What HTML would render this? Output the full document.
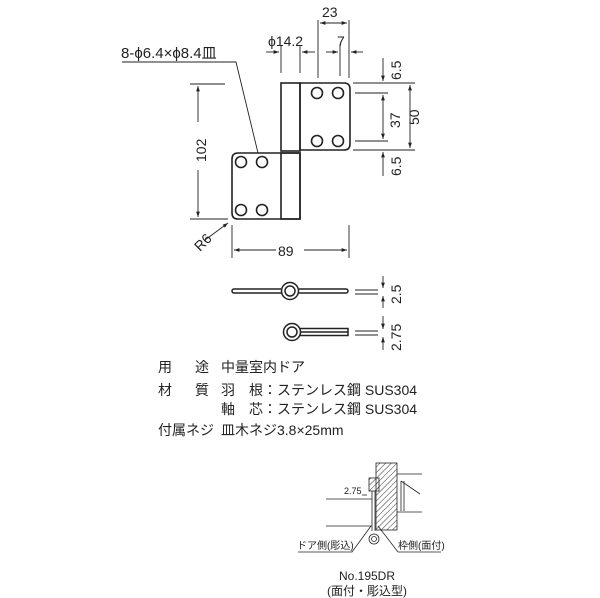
<!DOCTYPE html>
<html><head><meta charset="utf-8"><style>
html,body{margin:0;padding:0;background:#fff;}
svg{display:block;}
text{font-family:"Liberation Sans","Noto Sans CJK JP",sans-serif;fill:#222;}
</style></head><body>
<svg width="600" height="598" viewBox="0 0 600 598" xmlns="http://www.w3.org/2000/svg">
<defs>
<marker id="a" viewBox="0 0 10 10" refX="10" refY="5" markerWidth="6" markerHeight="6" orient="auto-start-reverse"><path d="M0,1.5L10,5L0,8.5z" fill="#222"/></marker>
<pattern id="h" width="4" height="4" patternUnits="userSpaceOnUse" patternTransform="rotate(45)"><line x1="0" y1="0" x2="0" y2="4" stroke="#333" stroke-width="1"/></pattern>
</defs>
<g stroke="#222" fill="none" stroke-width="1.6">
<path d="M300,83 H344 Q350,83 350,89 V144 Q350,150 344,150 H300 Z"/>
<rect x="281" y="83" width="19" height="68"/>
<path d="M300,153 H238 Q232,153 232,159 V213 Q232,219 238,219 H300 Z"/>
<rect x="281" y="153" width="19" height="66"/>
<circle cx="317" cy="93" r="5.5"/><circle cx="338" cy="93" r="5.5"/>
<circle cx="317" cy="141" r="5.5"/><circle cx="338" cy="141" r="5.5"/>
<circle cx="241" cy="162" r="5.5"/><circle cx="262" cy="162" r="5.5"/>
<circle cx="241" cy="210" r="5.5"/><circle cx="262" cy="210" r="5.5"/>
</g>
<g stroke="#222" fill="none" stroke-width="0.9">
<line x1="190" y1="84" x2="225" y2="84"/><line x1="190" y1="219" x2="228" y2="219"/>
<line x1="198" y1="122" x2="198" y2="86" marker-end="url(#a)"/>
<line x1="198" y1="170" x2="198" y2="217" marker-end="url(#a)"/>
<line x1="232" y1="225" x2="232" y2="258"/><line x1="349" y1="225" x2="349" y2="258"/>
<line x1="276" y1="250" x2="234" y2="250" marker-end="url(#a)"/>
<line x1="304" y1="250" x2="347" y2="250" marker-end="url(#a)"/>
<line x1="205" y1="240" x2="228" y2="223" marker-end="url(#a)"/>
<line x1="318" y1="20" x2="318" y2="78"/><line x1="349" y1="20" x2="349" y2="78"/>
<line x1="320" y1="23" x2="347" y2="23" marker-start="url(#a)" marker-end="url(#a)"/>
<line x1="281" y1="45" x2="281" y2="73"/><line x1="300" y1="45" x2="300" y2="73"/>
<line x1="266" y1="52" x2="279" y2="52" marker-end="url(#a)"/>
<line x1="315" y1="52" x2="302" y2="52" marker-end="url(#a)"/>
<line x1="340" y1="45" x2="340" y2="76"/>
<line x1="326" y1="52" x2="338" y2="52" marker-end="url(#a)"/>
<line x1="363" y1="52" x2="351" y2="52" marker-end="url(#a)"/>
<line x1="353" y1="83" x2="415" y2="83"/><line x1="355" y1="93" x2="388" y2="93"/>
<line x1="355" y1="141" x2="388" y2="141"/><line x1="353" y1="150" x2="415" y2="150"/>
<line x1="383" y1="58" x2="383" y2="81" marker-end="url(#a)"/>
<line x1="383" y1="95" x2="383" y2="139" marker-start="url(#a)" marker-end="url(#a)"/>
<line x1="383" y1="176" x2="383" y2="152" marker-end="url(#a)"/>
<line x1="410" y1="85" x2="410" y2="148" marker-start="url(#a)" marker-end="url(#a)"/>
<polyline points="122,62 236,62 258,153"/>
<line x1="355" y1="290" x2="378" y2="290"/><line x1="355" y1="294" x2="378" y2="294"/>
<line x1="383" y1="276" x2="383" y2="288" marker-end="url(#a)"/>
<line x1="383" y1="308" x2="383" y2="296" marker-end="url(#a)"/>
<line x1="355" y1="331" x2="378" y2="331"/><line x1="355" y1="335" x2="378" y2="335"/>
<line x1="383" y1="316" x2="383" y2="329" marker-end="url(#a)"/>
<line x1="383" y1="350" x2="383" y2="337" marker-end="url(#a)"/>
</g>
<g stroke="#222" fill="none" stroke-width="1.5">
<path d="M281,289 H234 a2,2 0 0 0 0,4 H281"/>
<circle cx="290" cy="291" r="8.5"/><circle cx="290" cy="291" r="5"/>
<path d="M299,289 H346 a2,2 0 0 1 0,4 H299"/>
<circle cx="292" cy="332" r="8.5"/><circle cx="292" cy="332" r="5"/>
<path d="M299,328.5 H348 V335.5 H299 M301,332 H348"/>
</g>
<text x="121" y="58" font-size="15">8-ϕ6.4×ϕ8.4皿</text>
<text x="268" y="46" font-size="14">ϕ14.2</text>
<text x="322" y="17" font-size="14">23</text>
<text x="337" y="46" font-size="14">7</text>
<text x="278" y="256" font-size="14">89</text>
<text transform="translate(206,162) rotate(-90)" font-size="14">102</text>
<text transform="translate(200,252) rotate(-45)" font-size="14">R6</text>
<text transform="translate(401,80) rotate(-90)" font-size="14">6.5</text>
<text transform="translate(400,128) rotate(-90)" font-size="14">37</text>
<text transform="translate(419,125) rotate(-90)" font-size="14">50</text>
<text transform="translate(401,176) rotate(-90)" font-size="14">6.5</text>
<text transform="translate(401,304) rotate(-90)" font-size="14">2.5</text>
<text transform="translate(401,351) rotate(-90)" font-size="14">2.75</text>
<g font-size="14">
<text x="158" y="372">用</text><text x="195" y="372">途</text><text x="221" y="372">中量室内ドア</text>
<text x="158" y="395">材</text><text x="195" y="395">質</text><text x="221" y="395">羽　根：ステンレス鋼 SUS304</text>
<text x="221" y="414">軸　芯：ステンレス鋼 SUS304</text>
<text x="158" y="435">付属ネジ</text><text x="221" y="435">皿木ネジ3.8×25mm</text>
</g>
<g stroke="#222" stroke-width="0.8" fill="none">
<rect x="376" y="463" width="21" height="67" fill="url(#h)"/>
<rect x="369" y="478" width="10" height="13" fill="url(#h)"/>
<line x1="397" y1="474" x2="422" y2="474"/><line x1="397" y1="512" x2="422" y2="512"/>
<line x1="401" y1="481" x2="401" y2="511"/>
<line x1="401" y1="481" x2="420" y2="494"/><line x1="404" y1="481" x2="404" y2="511"/>
<line x1="326" y1="499" x2="372" y2="499"/><line x1="326" y1="526" x2="372" y2="526"/>
<line x1="372" y1="491" x2="372" y2="531"/><line x1="375" y1="491" x2="375" y2="531"/>
<circle cx="374" cy="539" r="5"/><circle cx="374" cy="539" r="2.5"/>
<line x1="362" y1="495" x2="367" y2="495"/>
<polyline points="298,552 352,552 371,526"/>
<polyline points="441,552 398,552 378,526"/>
</g>
<text x="344" y="494" font-size="9">2.75</text>
<text x="297" y="549" font-size="10">ドア側(彫込)</text>
<text x="398" y="549" font-size="10">枠側(面付)</text>
<text x="367" y="580" font-size="12" text-anchor="middle">No.195DR</text>
<text x="367" y="595" font-size="12" text-anchor="middle">(面付・彫込型)</text>
</svg>
</body></html>
